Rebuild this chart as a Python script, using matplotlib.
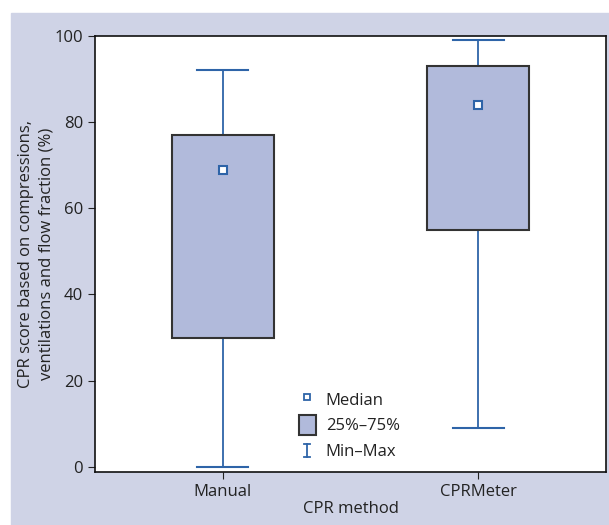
import matplotlib.pyplot as plt
from matplotlib.patches import Patch, Rectangle
from matplotlib.lines import Line2D
from matplotlib.legend_handler import HandlerBase

plt.rcParams['font.family'] = ['Open Sans', 'DejaVu Sans']

methods = ['Manual', 'CPRMeter']
mins = [0, 9]
q1 = [30, 55]
medians = [69, 84]
q3 = [77, 93]
maxs = [92, 99]

bg = '#cfd3e6'
box_fill = '#b1badb'
box_edge = '#333333'
blue = '#2e64a8'


class HandlerIBeam(HandlerBase):
    def create_artists(self, legend, orig_handle, xdescent, ydescent,
                       width, height, fontsize, trans):
        cx = width / 2 - xdescent
        y0 = -ydescent + height * 0.18
        y1 = height - ydescent - height * 0.18
        w = width * 0.18
        kw = dict(color=blue, lw=1.3, transform=trans)
        return [Line2D([cx, cx], [y0, y1], **kw),
                Line2D([cx - w, cx + w], [y0, y0], **kw),
                Line2D([cx - w, cx + w], [y1, y1], **kw)]


fig = plt.figure(figsize=(6.09, 5.25), dpi=100)
fig.patch.set_facecolor('white')
fig.patches.append(Rectangle((11 / 609, 0), 1, 1 - 13 / 525,
                             transform=fig.transFigure, color=bg, zorder=-10))
ax = fig.add_axes([95 / 609, 53 / 525, 511 / 609, 436 / 525])
ax.set_facecolor('white')

pos = [1, 2]
bw = 0.4
cw = 0.2
for i, p in enumerate(pos):
    ax.plot([p, p], [mins[i], q1[i]], color=blue, lw=1.3, zorder=2)
    ax.plot([p, p], [q3[i], maxs[i]], color=blue, lw=1.3, zorder=2)
    ax.plot([p - cw / 2, p + cw / 2], [mins[i]] * 2, color=blue, lw=1.5, zorder=2)
    ax.plot([p - cw / 2, p + cw / 2], [maxs[i]] * 2, color=blue, lw=1.5, zorder=2)
    ax.add_patch(Rectangle((p - bw / 2, q1[i]), bw, q3[i] - q1[i],
                           facecolor=box_fill, edgecolor=box_edge, lw=1.5, zorder=3))
    ax.plot([p], [medians[i]], marker='s', ms=5.5, mfc='white', mec=blue,
            mew=1.5, ls='none', zorder=4)

ax.set_xlim(0.5, 2.5)
ax.set_ylim(-1.2, 100)
ax.set_xticks(pos)
ax.set_xticklabels(methods)
ax.set_yticks([0, 20, 40, 60, 80, 100])
ax.tick_params(labelsize=12, length=5, color='#222222', labelcolor='#222222')
for s in ax.spines.values():
    s.set_linewidth(1.2)
    s.set_color('#111111')
ax.set_xlabel('CPR method', fontsize=12, color='#222222', labelpad=1)
ax.set_ylabel('CPR score based on compressions,\nventilations and flow fraction (%)',
              fontsize=12, color='#222222', labelpad=0, linespacing=1.35)

handles = [
    Line2D([], [], marker='s', ms=5, mfc='white', mec=blue, mew=1.3, ls='none'),
    Patch(facecolor=box_fill, edgecolor=box_edge, lw=1.5),
    'ibeam',
]
leg = ax.legend(handles, ['Median', '25%\u201375%', 'Min\u2013Max'],
                handler_map={str: HandlerIBeam()},
                loc='lower left', bbox_to_anchor=(0.37, -0.008), frameon=False,
                fontsize=12, handlelength=1.0, handleheight=1.5,
                handletextpad=0.6, labelspacing=0.3)
for t in leg.get_texts():
    t.set_color('#222222')

fig.savefig('out.png', dpi=100)
